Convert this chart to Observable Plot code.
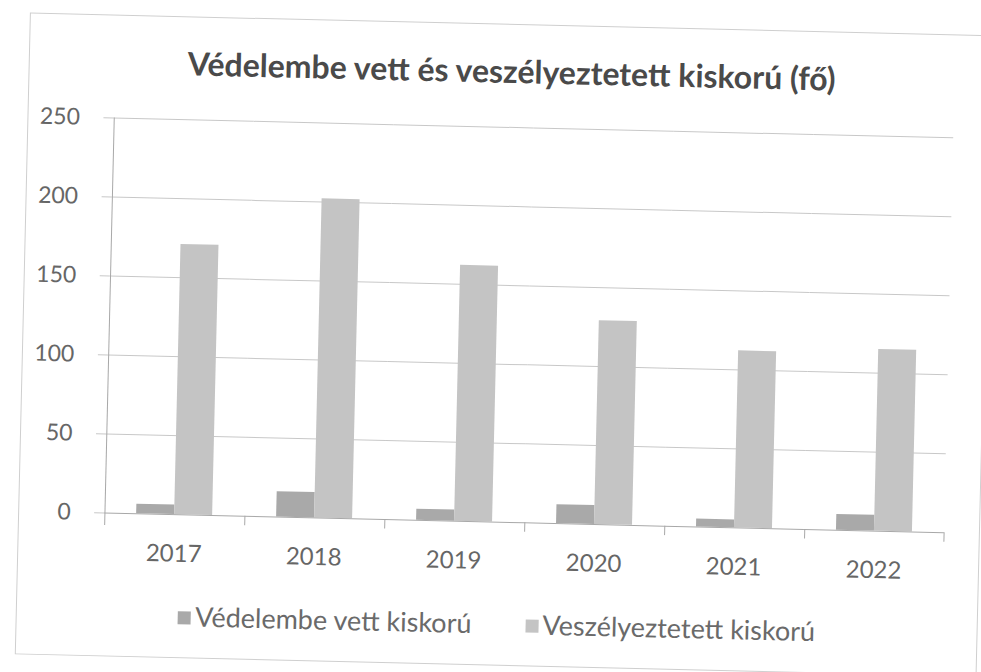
<!DOCTYPE html>
<html>
<head>
<meta charset="utf-8">
<script src="https://cdn.jsdelivr.net/npm/d3@7"></script>
<script src="https://cdn.jsdelivr.net/npm/@observablehq/plot@0.6"></script>
<style>
  html, body { margin: 0; padding: 0; background: #fff; overflow: hidden; }
  body { width: 981px; height: 672px; position: relative; font-family: Lato, "DejaVu Sans", sans-serif; }
  #card {
    position: absolute; left: 22px; top: 24px; width: 960px; height: 640px;
    border: 1px solid #cfcfcf; background: #fff;
    transform: rotate(1.35deg); transform-origin: 490px 330px;
  }
  #title {
    position: absolute; left: 0; right: 0; top: 26px; text-align: center;
    font-family: Lato, sans-serif; font-weight: 700; font-size: 32px; color: #4a4a4a;
    margin-left: 4px;
  }
  #chart { position: absolute; left: -29px; top: 76px; }
  #legend {
    position: absolute; left: 0; right: 0; top: 582px; text-align: center;
    font-size: 27px; color: #6a6a6a; padding-left: 0px;
  }
  #legend span.item { display: inline-block; margin: 0 27px; }
  #legend span.sw { display: inline-block; width: 13px; height: 13px; margin-right: 4px; vertical-align: 2px; }
</style>
</head>
<body>
<div id="card">
  <div id="title"></div>
  <div id="chart"></div>
  <div id="legend"></div>
</div>
<script>
const title = "Védelembe vett és veszélyeztetett kiskorú (fő)";
const years = ["2017", "2018", "2019", "2020", "2021", "2022"];
const seriesNames = ["Védelembe vett kiskorú", "Veszélyeztetett kiskorú"];
const vedelembe = [6, 16, 7, 12, 5, 10];
const veszelyeztetett = [171, 202, 162, 129, 112, 115];
const yTicks = [0, 50, 100, 150, 200, 250];
const colors = ["#a9a9a9", "#c4c4c4"];

const rows = [];
years.forEach((y, i) => {
  rows.push({year: y, series: seriesNames[0], value: vedelembe[i]});
  rows.push({year: y, series: seriesNames[1], value: veszelyeztetett[i]});
});

document.getElementById("title").textContent = title;

const firstFacet = rows.filter(d => d.year === years[0] && d.series === seriesNames[0]);
const leftEdges = rows.filter(d => d.year !== years[0] && d.series === seriesNames[0]);
const lastEdge = rows.filter(d => d.year === years[years.length - 1] && d.series === seriesNames[1]);

const padOuter = 0.8;
const edgeOffset = 39 * (0.5 + padOuter);

const chart = Plot.plot({
  width: 981,
  height: 490,
  marginLeft: 113,
  marginRight: 27,
  marginTop: 26,
  marginBottom: 69,
  style: {fontFamily: "Lato, sans-serif", color: "#666", background: "transparent"},
  fx: {domain: years, padding: 0, label: null},
  x: {domain: seriesNames, paddingInner: 0, paddingOuter: padOuter, axis: null},
  y: {domain: [0, 250], ticks: yTicks, label: null},
  color: {domain: seriesNames, range: colors},
  marks: [
    Plot.gridY(yTicks.filter(t => t > 0), {stroke: "#c8c8c8", strokeOpacity: 1, strokeWidth: 1}),
    Plot.axisY({ticks: yTicks, tickSize: 10, tickPadding: 24, fontSize: 23, stroke: "#c8c8c8", fill: "#666", label: null}),
    Plot.axisFx({anchor: "bottom", tickSize: 0, tickPadding: 30, fontSize: 24, fill: "#666", label: null}),
    Plot.barY(rows, {fx: "year", x: "series", y: "value", fill: "series"}),
    Plot.ruleY([0], {stroke: "#a8a8a8", strokeWidth: 1}),
    Plot.ruleX(firstFacet, {fx: "year", x: "series", y1: -8, y2: 250, dx: -edgeOffset, stroke: "#a8a8a8"}),
    Plot.ruleX(leftEdges, {fx: "year", x: "series", y1: -6, y2: 0, dx: -edgeOffset, stroke: "#a8a8a8"}),
    Plot.ruleX(lastEdge, {fx: "year", x: "series", y1: -6, y2: 0, dx: edgeOffset, stroke: "#a8a8a8"})
  ]
});
document.getElementById("chart").appendChild(chart);

const legend = document.getElementById("legend");
seriesNames.forEach((name, i) => {
  const item = document.createElement("span");
  item.className = "item";
  const sw = document.createElement("span");
  sw.className = "sw";
  sw.style.background = colors[i];
  item.appendChild(sw);
  item.appendChild(document.createTextNode(name));
  legend.appendChild(item);
});
</script>
</body>
</html>
